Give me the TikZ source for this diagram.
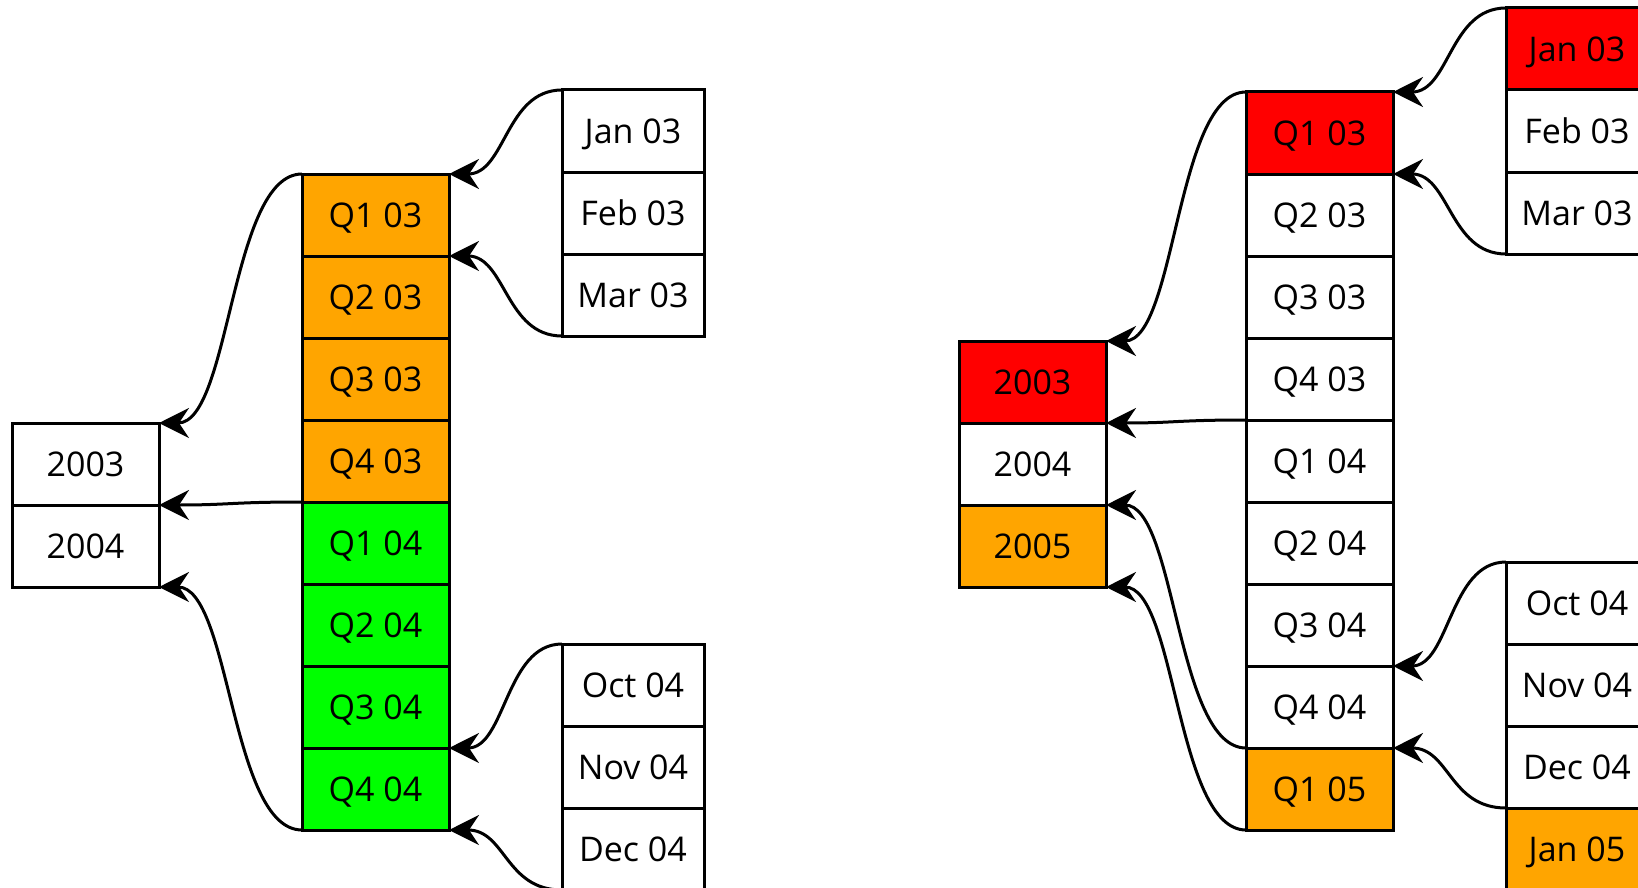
\documentclass[tikz,border=0pt]{standalone}
\usepackage{fontspec}
\setmainfont{Open Sans}
\usetikzlibrary{arrows.meta,calc}

\definecolor{qorange}{HTML}{FFA500}
\definecolor{qgreen}{HTML}{00FF00}
\definecolor{qred}{HTML}{FF0000}

% S-shaped roll-up link: leaves and enters horizontally, bends at mid-x
\newcommand\rollup[2]{%
  \draw[link] let \p1=(#1), \p2=(#2) in
    (\p1) .. controls ({(\x1+\x2)/2},\y1) and ({(\x1+\x2)/2},\y2) .. (\p2);}

\tikzset{
  cell/.style={draw, line width=3pt, minimum width=147pt, minimum height=82pt,
    inner sep=0pt, outer sep=0pt, anchor=north west,
    text height=24.5pt, text depth=0pt,
    font=\fontsize{34}{40}\selectfont},
  mcell/.style={cell, minimum width=142pt},
  link/.style={line width=3pt,
    -{Stealth[length=30pt, width=30pt, inset=10pt]}},
}

\begin{document}
\begin{tikzpicture}[x=1pt, y=-1pt]
\useasboundingbox (0,0) rectangle (1638,888);
\clip (0,0) rectangle (1638,888);

% ---------- left hierarchy ----------
% years
\node[cell] (ly03) at (12,423) {2003};
\node[cell] (ly04) at (ly03.south west) {2004};
% quarters
\node[cell, fill=qorange] (lq1) at (302,174) {Q1 03};
\node[cell, fill=qorange] (lq2) at (lq1.south west) {Q2 03};
\node[cell, fill=qorange] (lq3) at (lq2.south west) {Q3 03};
\node[cell, fill=qorange] (lq4) at (lq3.south west) {Q4 03};
\node[cell, fill=qgreen] (lq5) at (lq4.south west) {Q1 04};
\node[cell, fill=qgreen] (lq6) at (lq5.south west) {Q2 04};
\node[cell, fill=qgreen] (lq7) at (lq6.south west) {Q3 04};
\node[cell, fill=qgreen] (lq8) at (lq7.south west) {Q4 04};
% months
\node[mcell] (lm1) at (562,90) {Jan 03};
\node[mcell] (lm2) at (lm1.south west) {Feb 03};
\node[mcell] (lm3) at (lm2.south west) {Mar 03};
\node[mcell] (lm10) at (562,644) {Oct 04};
\node[mcell] (lm11) at (lm10.south west) {Nov 04};
\node[mcell] (lm12) at (lm11.south west) {Dec 04};

\rollup{lm1.north west}{lq1.north east}
\rollup{lm3.south west}{lq1.south east}
\rollup{lm10.north west}{lq7.south east}
\rollup{lm12.south west}{lq8.south east}
\rollup{lq1.north west}{ly03.north east}
\rollup{lq4.south west}{ly03.south east}
\rollup{lq8.south west}{ly04.south east}

% ---------- right hierarchy ----------
% years
\node[cell, fill=qred] (ry03) at (959,341) {2003};
\node[cell] (ry04) at (ry03.south west) {2004};
\node[cell, fill=qorange] (ry05) at (ry04.south west) {2005};
% quarters
\node[cell, fill=qred] (rq1) at (1246,92) {Q1 03};
\node[cell] (rq2) at (rq1.south west) {Q2 03};
\node[cell] (rq3) at (rq2.south west) {Q3 03};
\node[cell] (rq4) at (rq3.south west) {Q4 03};
\node[cell] (rq5) at (rq4.south west) {Q1 04};
\node[cell] (rq6) at (rq5.south west) {Q2 04};
\node[cell] (rq7) at (rq6.south west) {Q3 04};
\node[cell] (rq8) at (rq7.south west) {Q4 04};
\node[cell, fill=qorange] (rq9) at (rq8.south west) {Q1 05};
% months
\node[mcell, fill=qred] (rm1) at (1506,8) {Jan 03};
\node[mcell] (rm2) at (rm1.south west) {Feb 03};
\node[mcell] (rm3) at (rm2.south west) {Mar 03};
\node[mcell] (rm10) at (1506,562) {Oct 04};
\node[mcell] (rm11) at (rm10.south west) {Nov 04};
\node[mcell] (rm12) at (rm11.south west) {Dec 04};
\node[mcell, fill=qorange] (rm13) at (rm12.south west) {Jan 05};

\rollup{rm1.north west}{rq1.north east}
\rollup{rm3.south west}{rq1.south east}
\rollup{rm10.north west}{rq7.south east}
\rollup{rm12.south west}{rq8.south east}
\rollup{rq1.north west}{ry03.north east}
\rollup{rq4.south west}{ry03.south east}
\rollup{rq8.south west}{ry04.south east}
\rollup{rq9.south west}{ry05.south east}
\end{tikzpicture}
\end{document}
